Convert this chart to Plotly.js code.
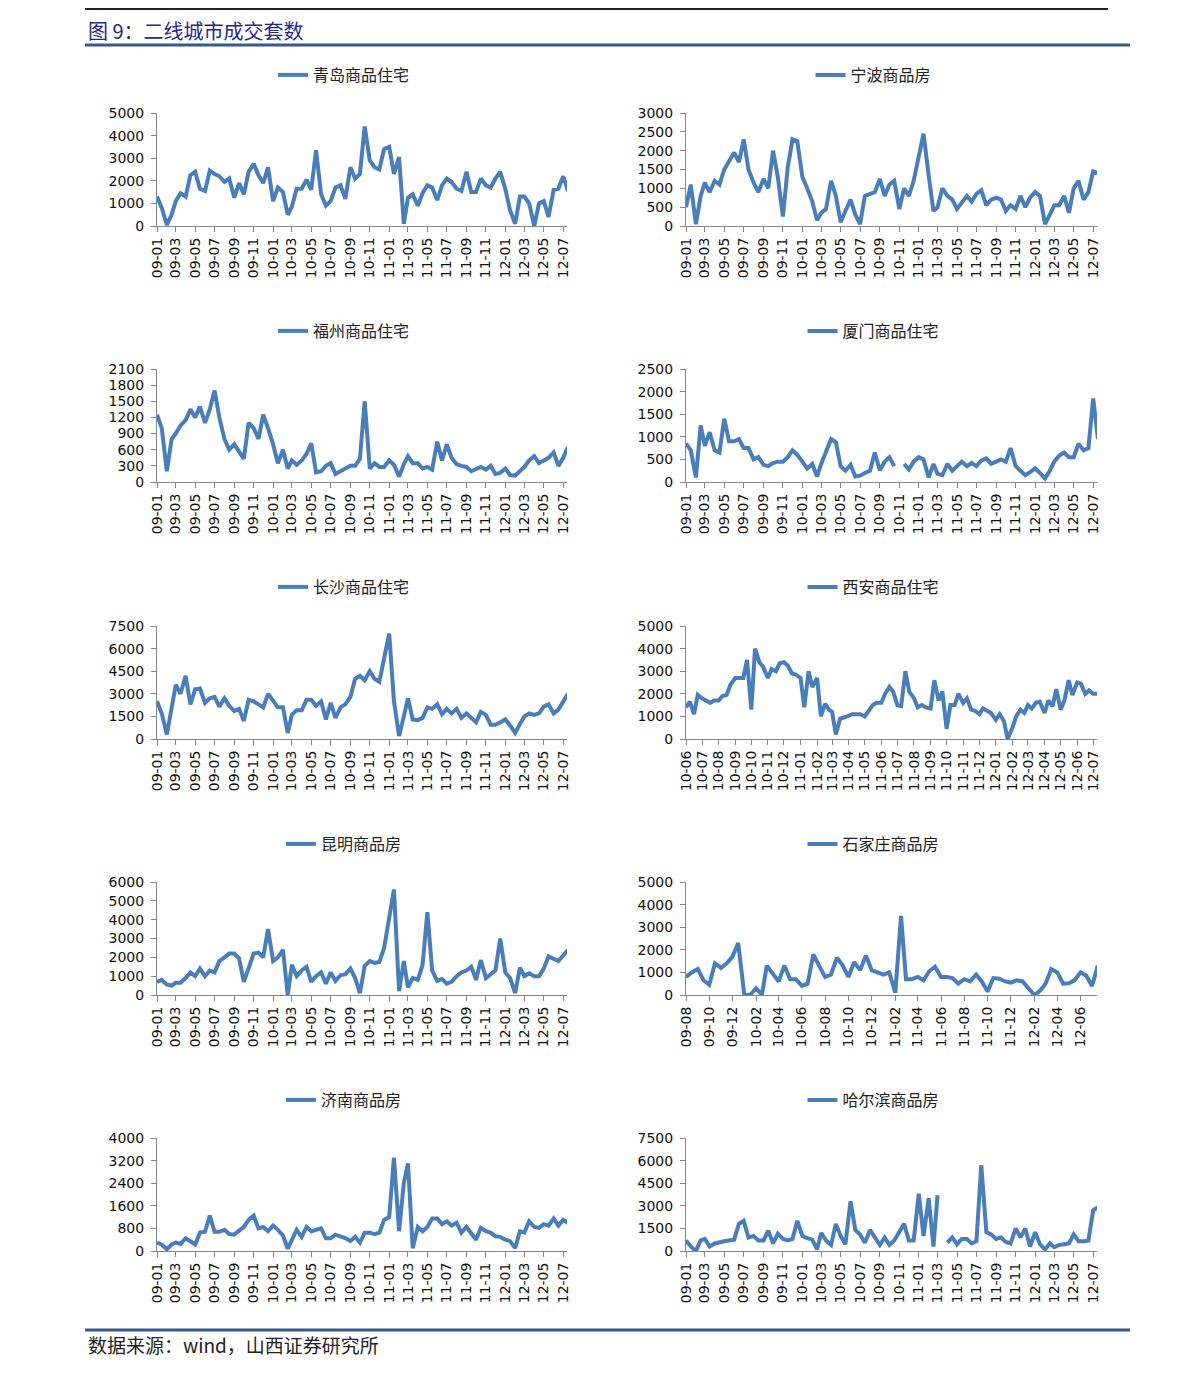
<!DOCTYPE html>
<html><head><meta charset="utf-8">
<script src="https://cdn.plot.ly/plotly-3.0.1.min.js"></script>
<style>html,body{margin:0;padding:0;background:#fff}#chart{width:1191px;height:1375px}</style>
</head><body><div id="chart"></div>
<script>
// ---- Data (weekly sales; semi-monthly samples) ----
const qingdao = [
 1300,800,50,500,1100,1450,1300,2250,2400,1650,1550,2450,2300,2200,1950,2100,1250,1900,1400,2400,2750,2250,1900,2600,
 1100,1700,1500,500,850,1650,1650,2050,1600,3350,1400,900,1100,1700,1800,1200,2600,2100,2300,4400,2900,2600,2500,3400,
 3500,2300,3050,100,1250,1400,900,1450,1800,1700,1150,1800,2100,1950,1650,1550,2400,1500,1500,2100,1800,1700,2100,2400,
 1650,700,100,1300,1300,1000,0,1000,1100,400,1600,1650,2200,1550];
const ningbo = [
 500,1100,50,800,1150,900,1200,1100,1500,1700,1950,1700,2300,1500,1150,900,1250,1000,2000,1300,250,1550,2300,2250,
 1300,1000,650,150,350,450,1200,800,100,400,700,300,50,800,850,900,1250,800,1100,1200,450,1000,800,1200,
 1850,2450,1350,400,500,1000,800,700,450,600,800,650,850,950,550,700,750,700,400,550,450,800,500,750,
 900,800,50,300,550,550,800,350,1000,1200,700,900,1450,1400];
const fuzhou = [
 1250,1000,200,800,900,1050,1150,1350,1200,1400,1100,1350,1700,1200,800,600,700,550,430,1100,1000,800,1250,1000,
 700,350,600,250,400,320,400,520,720,180,200,300,350,150,200,230,300,300,430,1500,250,350,280,280,
 400,320,100,330,480,350,350,250,280,230,750,400,700,450,330,300,280,200,250,280,230,300,150,170,
 250,130,120,200,280,400,480,350,400,450,550,300,450,650];
const xiamen = [
 850,700,100,1250,800,1100,700,650,1400,900,900,950,750,750,500,550,380,350,420,450,450,550,700,600,
 450,300,400,120,400,650,950,880,350,250,380,120,140,200,250,650,260,450,550,350,null,400,280,450,
 550,500,100,400,180,150,400,250,350,450,350,420,350,470,520,400,450,500,450,750,350,250,150,220,
 300,200,80,250,450,580,650,550,550,850,700,750,1850,950];
const changsha = [
 2500,1700,300,2000,3600,3000,4200,2300,3300,3350,2400,2700,2800,2150,2700,2200,1850,2000,1200,2600,2500,2300,2100,3000,
 2500,2100,2100,400,1600,1900,1900,2600,2600,2200,2500,1300,2400,1400,2100,2300,2800,4000,4200,3900,4500,4000,3800,5500,
 7000,2500,200,1500,2700,1300,1250,1400,2100,2000,2300,1650,2000,1700,2000,1400,1700,1400,1100,1800,1600,950,950,1100,
 1300,900,400,1000,1500,1700,1600,1700,2150,2300,1700,1950,2500,3000];
const xian = [
 1400,1650,1100,1950,1800,1700,1600,1700,1700,1900,
 1950,2400,2700,2700,2700,3500,1300,4000,3400,3200,
 2700,3100,3000,3350,3400,3250,2900,2850,2700,1400,
 3000,2300,2700,1000,1550,1300,1200,200,900,950,
 1050,1100,1100,1100,1000,1250,1500,1600,1600,2000,
 2300,2100,1500,1450,3000,2100,1800,1400,1500,1400,
 1350,2600,1700,2100,450,1500,1500,2000,1600,1800,
 1300,1250,1100,1350,1250,1150,850,1100,800,0,
 500,1000,1300,1150,1500,1350,1600,1650,1150,1700,
 1450,2200,1300,1700,2600,1950,2500,2450,2000,2150,
 2000,2000];
const kunming = [
 700,800,550,500,650,650,900,1200,1000,1400,1000,1300,1200,1800,2000,2200,2200,1950,700,1400,2200,2250,2000,3500,
 1800,2000,2400,0,1600,1000,1300,1500,700,1000,1200,600,1200,750,1050,1100,1400,900,100,1550,1800,1700,1750,2500,
 4000,5600,200,1800,400,900,800,1600,4400,1300,750,850,600,700,1000,1200,1300,1500,800,1850,900,1100,1300,3000,
 1200,900,100,1450,1000,1150,1000,1000,1400,2050,1900,1800,2100,2400];
const shijiazhuang = [
 800,1000,1150,650,450,1400,1200,1400,1700,2300,
 0,0,300,0,1300,950,600,1300,700,700,
 400,500,1800,1300,800,900,1650,1300,800,1450,
 1100,1750,1100,1000,900,1000,100,3500,700,700,
 800,650,1050,1250,800,800,750,500,700,600,
 900,600,150,750,720,600,550,650,600,300,
 0,200,500,1150,1000,500,520,650,1000,850,
 400,1300];
const jinan = [
 300,220,60,230,300,250,450,350,230,650,680,1250,680,680,750,600,580,720,850,1100,1250,800,850,700,
 900,750,550,80,400,750,500,850,700,750,800,450,450,580,520,460,350,500,300,650,650,600,650,1100,
 1200,3300,700,2400,3100,100,850,700,850,1150,1150,950,1050,900,1000,650,850,600,400,820,700,650,520,500,
 400,350,100,700,650,1050,850,820,950,900,1150,900,1100,1000];
const harbin = [
 700,300,0,700,800,300,500,600,650,700,750,1800,2000,900,1000,700,700,1350,500,1150,800,700,800,2000,
 1000,850,750,100,1200,700,400,1800,1000,450,3300,1400,1100,550,1400,900,400,900,400,700,1300,1800,700,700,
 3800,1000,3500,300,3700,null,550,900,450,800,800,500,650,5700,1250,1100,800,900,600,500,1500,900,1500,300,
 1250,450,100,500,250,400,450,500,1100,650,650,700,2700,2900];

// ---- Regular time grids for the samples ----
function semiMonthly(y, m, n) {
  const out = [];
  for (let i = 0; i < n; i++) {
    const d = new Date(Date.UTC(y, m + Math.floor(i / 2), i % 2 ? 16 : 1));
    out.push(d.toISOString().slice(0, 10));
  }
  return out;
}
function quarterMonthly(y, m, n) {
  const days = [1, 8, 16, 23], out = [];
  for (let i = 0; i < n; i++) {
    const d = new Date(Date.UTC(y, m + Math.floor(i / 4), days[i % 4]));
    out.push(d.toISOString().slice(0, 10));
  }
  return out;
}
const fullDates = semiMonthly(2009, 0, qingdao.length);
const sjzDates = semiMonthly(2009, 7, shijiazhuang.length);
const xianDates = quarterMonthly(2010, 5, xian.length);

const FULL = {x: fullDates, range: ['2009-01-01', '2012-07-13'], tick0: '2009-01-01', dt: 'M2'};
const panels = [
  {name: '青岛商品住宅', y: qingdao, ax: FULL, ymax: 5000, dy: 1000, col: 0, row: 0},
  {name: '宁波商品房', y: ningbo, ax: FULL, ymax: 3000, dy: 500, col: 1, row: 0},
  {name: '福州商品住宅', y: fuzhou, ax: FULL, ymax: 2100, dy: 300, col: 0, row: 1},
  {name: '厦门商品住宅', y: xiamen, ax: FULL, ymax: 2500, dy: 500, col: 1, row: 1},
  {name: '长沙商品住宅', y: changsha, ax: FULL, ymax: 7500, dy: 1500, col: 0, row: 2},
  {name: '西安商品住宅', y: xian, ax: {x: xianDates, range: ['2010-06-01', '2012-07-08'], tick0: '2010-06-01', dt: 'M1'}, ymax: 5000, dy: 1000, col: 1, row: 2},
  {name: '昆明商品房', y: kunming, ax: FULL, ymax: 6000, dy: 1000, col: 0, row: 3},
  {name: '石家庄商品房', y: shijiazhuang, ax: {x: sjzDates, range: ['2009-08-01', '2012-07-14'], tick0: '2009-08-01', dt: 'M2'}, ymax: 5000, dy: 1000, col: 1, row: 3},
  {name: '济南商品房', y: jinan, ax: FULL, ymax: 4000, dy: 800, col: 0, row: 4},
  {name: '哈尔滨商品房', y: harbin, ax: FULL, ymax: 7500, dy: 1500, col: 1, row: 4},
];

// ---- Layout geometry (pixels) ----
const W = 1191, H = 1375;
const PX = v => v / W, PY = v => 1 - v / H;
const COLS = [[157, 567], [686, 1097]];
const TOPS = [113, 369, 626, 882, 1138];
const PH = 113;
const LEG_Y = [75, 331, 587, 844, 1100];
const BLUE = '#4a7ebb', AXC = '#868686';
const NUMFONT = 'DejaVu Sans, Verdana, sans-serif';
const CJK = 'Noto Sans CJK SC, sans-serif';

const data = [];
const layout = {
  width: W, height: H, margin: {l: 0, r: 0, t: 0, b: 0},
  paper_bgcolor: '#fff', plot_bgcolor: 'rgba(0,0,0,0)',
  showlegend: true, font: {family: NUMFONT, color: '#222'},
  shapes: [], annotations: []
};

panels.forEach((p, i) => {
  const n = i + 1;
  const xa = 'xaxis' + (n === 1 ? '' : n), ya = 'yaxis' + (n === 1 ? '' : n);
  const legName = 'legend' + (n === 1 ? '' : n);
  const [x0, x1] = COLS[p.col];
  const top = TOPS[p.row];
  data.push({
    type: 'scatter', mode: 'lines', name: p.name, x: p.ax.x, y: p.y,
    xaxis: 'x' + (n === 1 ? '' : n), yaxis: 'y' + (n === 1 ? '' : n),
    line: {color: BLUE, width: 4}, connectgaps: false, legend: legName,
    hoverinfo: 'skip'
  });
  layout[xa] = {
    domain: [PX(x0), PX(x1)], anchor: 'y' + (n === 1 ? '' : n), type: 'date',
    range: p.ax.range, tick0: p.ax.tick0, dtick: p.ax.dt, tickformat: '%y-%m',
    tickangle: -90, ticks: 'outside', ticklen: 5, tickcolor: AXC, tickwidth: 1,
    showline: true, linecolor: AXC, linewidth: 1, showgrid: false, zeroline: false,
    tickfont: {family: NUMFONT, size: 14, color: '#111'}, fixedrange: true, automargin: false
  };
  layout[ya] = {
    domain: [PY(top + PH), PY(top)], anchor: 'x' + (n === 1 ? '' : n),
    range: [0, p.ymax], dtick: p.dy, tick0: 0, tickformat: 'd',
    ticks: 'outside', ticklen: 5, tickcolor: AXC, tickwidth: 1,
    showline: true, linecolor: AXC, linewidth: 1, showgrid: false, zeroline: false,
    tickfont: {family: NUMFONT, size: 14, color: '#111'}, ticklabelstandoff: 4,
    fixedrange: true, automargin: false
  };
  layout[legName] = {
    x: PX((x0 + x1) / 2 - 18), y: PY(LEG_Y[p.row]), xanchor: 'center', yanchor: 'middle',
    orientation: 'h', bgcolor: 'rgba(0,0,0,0)', borderwidth: 0,
    font: {family: CJK, size: 16, color: '#222'}
  };
});

// Page header / footer rules and texts
layout.shapes.push(
  {type: 'line', xref: 'paper', yref: 'paper', x0: PX(85), x1: PX(1108), y0: PY(9), y1: PY(9), line: {color: '#222', width: 2}},
  {type: 'line', xref: 'paper', yref: 'paper', x0: PX(85), x1: PX(1130), y0: PY(45), y1: PY(45), line: {color: '#36598c', width: 3}},
  {type: 'line', xref: 'paper', yref: 'paper', x0: PX(85), x1: PX(1130), y0: PY(1330), y1: PY(1330), line: {color: '#36598c', width: 3}}
);
layout.annotations.push(
  {xref: 'paper', yref: 'paper', x: PX(86), y: PY(31), xanchor: 'left', yanchor: 'middle', showarrow: false,
   text: '图 9：二线城市成交套数', font: {family: CJK, size: 20, color: '#1f2a8a'}},
  {xref: 'paper', yref: 'paper', x: PX(86), y: PY(1344), xanchor: 'left', yanchor: 'middle', showarrow: false,
   text: '数据来源：wind，山西证券研究所', font: {family: CJK, size: 19, color: '#222'}}
);

Plotly.newPlot('chart', data, layout, {staticPlot: true, displayModeBar: false});
</script>
</body></html>
